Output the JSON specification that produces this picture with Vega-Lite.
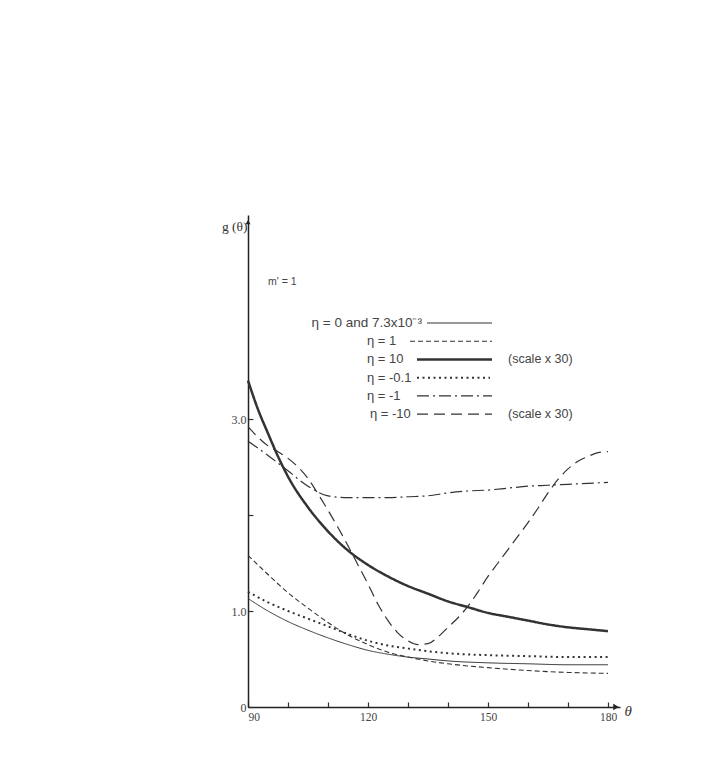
{
  "$schema": "https://vega.github.io/schema/vega-lite/v6.json",
  "autosize": {"type": "none"},
  "width": 372,
  "height": 492,
  "padding": {"left": 248, "top": 215, "right": 100, "bottom": 57},
  "background": "white",
  "config": {
    "view": {"stroke": null},
    "axis": {"grid": false, "labelFont": "Liberation Serif", "labelFontSize": 12, "labelColor": "#444", "domainColor": "#222", "domainWidth": 1.5, "tickColor": "#333", "tickWidth": 1.2, "titleFont": "Liberation Serif", "titleFontWeight": "normal", "titleColor": "#333"},
    "text": {"font": "Liberation Sans", "fontSize": 12.5, "color": "#444", "baseline": "middle"},
    "rule": {"color": "#333"}
  },
  "datasets": {
    "curves": [
      {"series": "η = 0 and 7.3x10⁻³", "theta": 90, "g": 1.13},
      {"series": "η = 0 and 7.3x10⁻³", "theta": 95, "g": 1.0},
      {"series": "η = 0 and 7.3x10⁻³", "theta": 100, "g": 0.89},
      {"series": "η = 0 and 7.3x10⁻³", "theta": 105, "g": 0.8},
      {"series": "η = 0 and 7.3x10⁻³", "theta": 110, "g": 0.72},
      {"series": "η = 0 and 7.3x10⁻³", "theta": 115, "g": 0.65},
      {"series": "η = 0 and 7.3x10⁻³", "theta": 120, "g": 0.59},
      {"series": "η = 0 and 7.3x10⁻³", "theta": 125, "g": 0.55},
      {"series": "η = 0 and 7.3x10⁻³", "theta": 130, "g": 0.52},
      {"series": "η = 0 and 7.3x10⁻³", "theta": 135, "g": 0.5},
      {"series": "η = 0 and 7.3x10⁻³", "theta": 140, "g": 0.48},
      {"series": "η = 0 and 7.3x10⁻³", "theta": 150, "g": 0.46},
      {"series": "η = 0 and 7.3x10⁻³", "theta": 160, "g": 0.45},
      {"series": "η = 0 and 7.3x10⁻³", "theta": 170, "g": 0.44},
      {"series": "η = 0 and 7.3x10⁻³", "theta": 180, "g": 0.44},

      {"series": "η = 1", "theta": 90, "g": 1.58},
      {"series": "η = 1", "theta": 95, "g": 1.38},
      {"series": "η = 1", "theta": 100, "g": 1.19},
      {"series": "η = 1", "theta": 105, "g": 1.03},
      {"series": "η = 1", "theta": 110, "g": 0.88},
      {"series": "η = 1", "theta": 115, "g": 0.75},
      {"series": "η = 1", "theta": 120, "g": 0.65},
      {"series": "η = 1", "theta": 125, "g": 0.57},
      {"series": "η = 1", "theta": 130, "g": 0.52},
      {"series": "η = 1", "theta": 135, "g": 0.48},
      {"series": "η = 1", "theta": 140, "g": 0.45},
      {"series": "η = 1", "theta": 150, "g": 0.41},
      {"series": "η = 1", "theta": 160, "g": 0.38},
      {"series": "η = 1", "theta": 170, "g": 0.36},
      {"series": "η = 1", "theta": 180, "g": 0.35},

      {"series": "η = 10", "theta": 90, "g": 3.4},
      {"series": "η = 10", "theta": 92.5, "g": 3.1},
      {"series": "η = 10", "theta": 95, "g": 2.85},
      {"series": "η = 10", "theta": 97.5, "g": 2.61},
      {"series": "η = 10", "theta": 100, "g": 2.4},
      {"series": "η = 10", "theta": 105, "g": 2.08},
      {"series": "η = 10", "theta": 110, "g": 1.83},
      {"series": "η = 10", "theta": 115, "g": 1.63},
      {"series": "η = 10", "theta": 120, "g": 1.48},
      {"series": "η = 10", "theta": 125, "g": 1.36},
      {"series": "η = 10", "theta": 130, "g": 1.26},
      {"series": "η = 10", "theta": 135, "g": 1.18},
      {"series": "η = 10", "theta": 140, "g": 1.1},
      {"series": "η = 10", "theta": 145, "g": 1.04},
      {"series": "η = 10", "theta": 150, "g": 0.98},
      {"series": "η = 10", "theta": 155, "g": 0.94},
      {"series": "η = 10", "theta": 160, "g": 0.9},
      {"series": "η = 10", "theta": 165, "g": 0.86},
      {"series": "η = 10", "theta": 170, "g": 0.83},
      {"series": "η = 10", "theta": 175, "g": 0.81},
      {"series": "η = 10", "theta": 180, "g": 0.79},

      {"series": "η = -0.1", "theta": 90, "g": 1.2},
      {"series": "η = -0.1", "theta": 95, "g": 1.09},
      {"series": "η = -0.1", "theta": 100, "g": 1.0},
      {"series": "η = -0.1", "theta": 105, "g": 0.92},
      {"series": "η = -0.1", "theta": 110, "g": 0.84},
      {"series": "η = -0.1", "theta": 115, "g": 0.76},
      {"series": "η = -0.1", "theta": 120, "g": 0.69},
      {"series": "η = -0.1", "theta": 125, "g": 0.64},
      {"series": "η = -0.1", "theta": 130, "g": 0.61},
      {"series": "η = -0.1", "theta": 135, "g": 0.58},
      {"series": "η = -0.1", "theta": 140, "g": 0.56},
      {"series": "η = -0.1", "theta": 150, "g": 0.54},
      {"series": "η = -0.1", "theta": 160, "g": 0.53},
      {"series": "η = -0.1", "theta": 170, "g": 0.52},
      {"series": "η = -0.1", "theta": 180, "g": 0.52},

      {"series": "η = -1", "theta": 90, "g": 2.77},
      {"series": "η = -1", "theta": 95, "g": 2.62},
      {"series": "η = -1", "theta": 100, "g": 2.46},
      {"series": "η = -1", "theta": 105, "g": 2.3},
      {"series": "η = -1", "theta": 110, "g": 2.2},
      {"series": "η = -1", "theta": 115, "g": 2.18},
      {"series": "η = -1", "theta": 120, "g": 2.18},
      {"series": "η = -1", "theta": 125, "g": 2.18},
      {"series": "η = -1", "theta": 130, "g": 2.19},
      {"series": "η = -1", "theta": 135, "g": 2.2},
      {"series": "η = -1", "theta": 140, "g": 2.23},
      {"series": "η = -1", "theta": 145, "g": 2.25},
      {"series": "η = -1", "theta": 150, "g": 2.26},
      {"series": "η = -1", "theta": 155, "g": 2.28},
      {"series": "η = -1", "theta": 160, "g": 2.3},
      {"series": "η = -1", "theta": 165, "g": 2.31},
      {"series": "η = -1", "theta": 170, "g": 2.32},
      {"series": "η = -1", "theta": 175, "g": 2.33},
      {"series": "η = -1", "theta": 180, "g": 2.34},

      {"series": "η = -10", "theta": 90, "g": 2.92},
      {"series": "η = -10", "theta": 92.5, "g": 2.81},
      {"series": "η = -10", "theta": 95, "g": 2.72},
      {"series": "η = -10", "theta": 97.5, "g": 2.66},
      {"series": "η = -10", "theta": 100, "g": 2.59},
      {"series": "η = -10", "theta": 102.5, "g": 2.5},
      {"series": "η = -10", "theta": 105, "g": 2.38},
      {"series": "η = -10", "theta": 107.5, "g": 2.22},
      {"series": "η = -10", "theta": 110, "g": 2.05},
      {"series": "η = -10", "theta": 112.5, "g": 1.87},
      {"series": "η = -10", "theta": 115, "g": 1.68},
      {"series": "η = -10", "theta": 117.5, "g": 1.48},
      {"series": "η = -10", "theta": 120, "g": 1.28},
      {"series": "η = -10", "theta": 122.5, "g": 1.07},
      {"series": "η = -10", "theta": 125, "g": 0.9},
      {"series": "η = -10", "theta": 127.5, "g": 0.77},
      {"series": "η = -10", "theta": 130, "g": 0.69},
      {"series": "η = -10", "theta": 132.5, "g": 0.65},
      {"series": "η = -10", "theta": 135, "g": 0.66},
      {"series": "η = -10", "theta": 137.5, "g": 0.73},
      {"series": "η = -10", "theta": 140, "g": 0.83},
      {"series": "η = -10", "theta": 142.5, "g": 0.93},
      {"series": "η = -10", "theta": 145, "g": 1.05},
      {"series": "η = -10", "theta": 147.5, "g": 1.2},
      {"series": "η = -10", "theta": 150, "g": 1.36},
      {"series": "η = -10", "theta": 152.5, "g": 1.5},
      {"series": "η = -10", "theta": 155, "g": 1.64},
      {"series": "η = -10", "theta": 157.5, "g": 1.78},
      {"series": "η = -10", "theta": 160, "g": 1.92},
      {"series": "η = -10", "theta": 162.5, "g": 2.07},
      {"series": "η = -10", "theta": 165, "g": 2.23},
      {"series": "η = -10", "theta": 167.5, "g": 2.37},
      {"series": "η = -10", "theta": 170, "g": 2.48},
      {"series": "η = -10", "theta": 172.5, "g": 2.56},
      {"series": "η = -10", "theta": 175, "g": 2.61},
      {"series": "η = -10", "theta": 177.5, "g": 2.65},
      {"series": "η = -10", "theta": 180, "g": 2.66}
    ],
    "one": [{}]
  },
  "layer": [
    {
      "data": {"name": "curves"},
      "mark": {"type": "line", "interpolate": "monotone", "color": "#333"},
      "encoding": {
        "x": {
          "field": "theta", "type": "quantitative",
          "scale": {"domain": [90, 183], "nice": false, "zero": false},
          "axis": {
            "values": [90, 100, 110, 120, 130, 140, 150, 160, 170, 180],
            "labelExpr": "datum.value % 30 == 0 ? datum.label : ''",
            "labelFlush": true, "labelFontSize": 11.5,
            "tickSize": -5, "labelPadding": 9,
            "title": "θ", "titleFontStyle": "italic", "titleFontSize": 15,
            "titleX": 376, "titleY": 3, "titleAlign": "left", "titleBaseline": "middle", "titleAnchor": null
          }
        },
        "y": {
          "field": "g", "type": "quantitative",
          "scale": {"domain": [0, 5.125], "nice": false},
          "axis": {
            "values": [0, 1, 2, 3],
            "labelExpr": "datum.value == 0 ? '0' : datum.value == 1 ? '1.0' : datum.value == 3 ? '3.0' : ''",
            "labelFlush": false,
            "tickSize": -5, "labelPadding": 7,
            "title": "g (θ)", "titleAngle": 0, "titleFontSize": 13.5,
            "titleX": -1, "titleY": 11, "titleAlign": "right", "titleBaseline": "middle", "titleAnchor": null
          }
        },
        "strokeDash": {
          "field": "series", "type": "nominal",
          "scale": {
            "domain": ["η = 0 and 7.3x10⁻³", "η = 1", "η = 10", "η = -0.1", "η = -1", "η = -10"],
            "range": [[1, 0], [5, 3], [1, 0], [2, 3.5], [12, 4, 2, 4], [11, 6]]
          },
          "legend": null
        },
        "strokeWidth": {
          "field": "series", "type": "ordinal",
          "scale": {
            "type": "ordinal",
            "domain": ["η = 0 and 7.3x10⁻³", "η = 1", "η = 10", "η = -0.1", "η = -1", "η = -10"],
            "range": [1, 1.1, 2.5, 2, 1.2, 1.2]
          },
          "legend": null
        }
      }
    },
    {
      "data": {"name": "one"},
      "mark": {"type": "text", "align": "left", "fontSize": 10.5},
      "encoding": {"x": {"datum": 95}, "y": {"datum": 4.43}, "text": {"value": "m' = 1"}}
    },
    {
      "data": {"name": "one"},
      "mark": {"type": "text", "align": "right", "fontSize": 13.5},
      "encoding": {"x": {"datum": 133.5}, "y": {"datum": 4.0}, "text": {"value": "η = 0 and 7.3x10⁻³"}}
    },
    {
      "data": {"name": "one"},
      "mark": {"type": "rule", "strokeWidth": 1},
      "encoding": {"x": {"datum": 134.75}, "x2": {"datum": 151}, "y": {"datum": 4.0}}
    },
    {
      "data": {"name": "one"},
      "mark": {"type": "text", "align": "left", "fontSize": 13},
      "encoding": {"x": {"datum": 119.75}, "y": {"datum": 3.81}, "text": {"value": "η = 1"}}
    },
    {
      "data": {"name": "one"},
      "mark": {"type": "rule", "strokeWidth": 1.1, "strokeDash": [5, 3]},
      "encoding": {"x": {"datum": 130.5}, "x2": {"datum": 151}, "y": {"datum": 3.81}}
    },
    {
      "data": {"name": "one"},
      "mark": {"type": "text", "align": "left", "fontSize": 13},
      "encoding": {"x": {"datum": 119.75}, "y": {"datum": 3.62}, "text": {"value": "η = 10"}}
    },
    {
      "data": {"name": "one"},
      "mark": {"type": "rule", "strokeWidth": 2.5},
      "encoding": {"x": {"datum": 132.25}, "x2": {"datum": 151}, "y": {"datum": 3.62}}
    },
    {
      "data": {"name": "one"},
      "mark": {"type": "text", "align": "left", "fontSize": 12.5},
      "encoding": {"x": {"datum": 155}, "y": {"datum": 3.62}, "text": {"value": "(scale x 30)"}}
    },
    {
      "data": {"name": "one"},
      "mark": {"type": "text", "align": "left", "fontSize": 13},
      "encoding": {"x": {"datum": 119.75}, "y": {"datum": 3.43}, "text": {"value": "η = -0.1"}}
    },
    {
      "data": {"name": "one"},
      "mark": {"type": "rule", "strokeWidth": 2, "strokeDash": [2, 3.5]},
      "encoding": {"x": {"datum": 132.25}, "x2": {"datum": 150.5}, "y": {"datum": 3.43}}
    },
    {
      "data": {"name": "one"},
      "mark": {"type": "text", "align": "left", "fontSize": 13},
      "encoding": {"x": {"datum": 119.75}, "y": {"datum": 3.24}, "text": {"value": "η = -1"}}
    },
    {
      "data": {"name": "one"},
      "mark": {"type": "rule", "strokeWidth": 1.2, "strokeDash": [12, 4, 2, 4]},
      "encoding": {"x": {"datum": 132.25}, "x2": {"datum": 151}, "y": {"datum": 3.24}}
    },
    {
      "data": {"name": "one"},
      "mark": {"type": "text", "align": "left", "fontSize": 13},
      "encoding": {"x": {"datum": 120.5}, "y": {"datum": 3.05}, "text": {"value": "η = -10"}}
    },
    {
      "data": {"name": "one"},
      "mark": {"type": "rule", "strokeWidth": 1.2, "strokeDash": [11, 6]},
      "encoding": {"x": {"datum": 132.25}, "x2": {"datum": 151}, "y": {"datum": 3.05}}
    },
    {
      "data": {"name": "one"},
      "mark": {"type": "text", "align": "left", "fontSize": 12.5},
      "encoding": {"x": {"datum": 155}, "y": {"datum": 3.05}, "text": {"value": "(scale x 30)"}}
    },
    {
      "data": {"name": "one"},
      "mark": {"type": "point", "shape": "triangle-right", "filled": true, "size": 40, "color": "#222", "opacity": 1},
      "encoding": {"x": {"datum": 182}, "y": {"datum": 0}}
    },
    {
      "data": {"name": "one"},
      "mark": {"type": "point", "shape": "triangle-up", "filled": true, "size": 25, "color": "#222", "opacity": 1},
      "encoding": {"x": {"datum": 90}, "y": {"datum": 5.05}}
    }
  ]
}
